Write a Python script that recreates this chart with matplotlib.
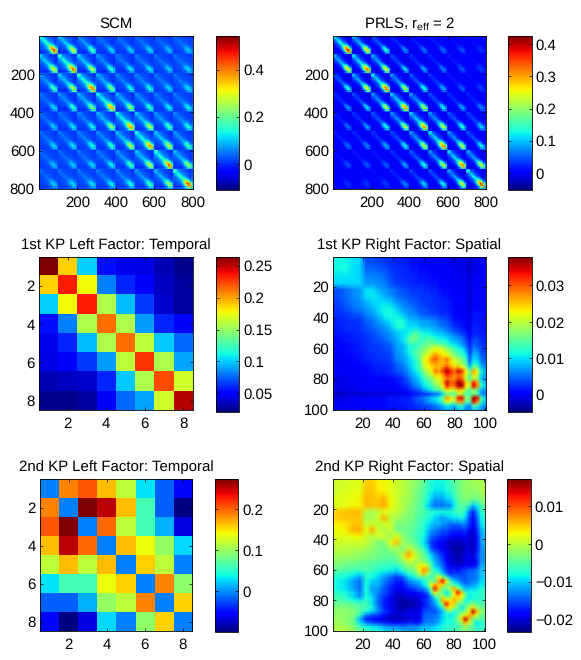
import numpy as np
import matplotlib
matplotlib.use('Agg')
import matplotlib.pyplot as plt

plt.rcParams['font.family'] = ['Liberation Sans', 'DejaVu Sans']
plt.rcParams['mathtext.default'] = 'regular'
plt.rcParams['text.hinting'] = 'no_hinting'

# temporal factors
temporal_1 = [
    [.264, .189, .101, .055, .045, .043, .033, .024],
    [.189, .235, .177, .082, .060, .050, .036, .028],
    [.101, .177, .235, .157, .096, .065, .038, .028],
    [.055, .082, .157, .213, .157, .089, .060, .050],
    [.045, .060, .096, .157, .213, .162, .099, .077],
    [.043, .050, .065, .089, .162, .228, .157, .091],
    [.033, .036, .038, .060, .099, .157, .223, .167],
    [.024, .024, .028, .050, .077, .091, .167, .252],
]
temporal_2 = [
    [-.006, .187, .205, .164, .116, .031, -.017, -.051],
    [.187, -.006, .272, .253, .164, .061, -.017, -.097],
    [.205, .272, -.006, .198, .116, .061, .012, -.066],
    [.164, .253, .198, -.006, .164, .138, .098, .027],
    [.116, .164, .116, .164, -.006, .157, .116, -.006],
    [.031, .061, .061, .138, .157, -.006, .187, .094],
    [-.017, -.017, .012, .098, .116, .187, -.006, .155],
    [-.051, -.097, -.066, .027, -.006, .094, .155, -.006],
]

# spatial factors in units of 1e-3, lower triangle
# at these positions (closer together where the panels have more detail)
spatial_grid = [.5, 8, 14, 18, 22, 26, 30, 34, 38, 42, 46,
                50, 52.5, 55, 57.5, 60, 62.5, 65, 67.5, 70, 72.5, 75, 77.5,
                80, 82.5, 85, 87.5, 90, 92.5, 95, 97.5, 100.5]
spatial_1_rows = [
    [11],
    [11, 11.5],
    [10, 10, 10],
    [9.5, 9.5, 9.5, 9.5],
    [3.5, 5, 6.5, 7, 10],
    [3.5, 5, 6.5, 7, 10, 10.5],
    [3, 4.5, 6, 6.5, 8, 9.5, 10],
    [2.5, 4, 5.5, 6, 7, 8, 10, 11],
    [2.5, 3, 4, 4.5, 6, 7, 9, 11, 11.5],
    [2, 2.5, 3, 3, 5, 5.5, 7, 9, 10.5, 12],
    [1.5, 2.5, 2.5, 3, 4, 5, 6, 7, 9, 11.5, 12],
    [1.5, 2, 2.5, 2.5, 3.5, 4, 5, 6, 7, 9, 10, 11],
    [1, 1.5, 2, 2.5, 3, 3.5, 4.5, 5.5, 6.5, 8.5, 10, 13, 15],
    [1, 1.5, 2, 2, 3, 3.5, 4, 5, 6, 8, 10, 14, 16, 15],
    [1, 1, 1.5, 2, 3, 3, 3.5, 4, 5, 7.5, 8.5, 12, 13, 13, 13],
    [.5, 1, 1.5, 2, 2.5, 3, 3, 4, 4.5, 7, 8, 11, 12, 13, 15, 17],
    [.5, 1, 1.5, 1.5, 2.5, 3, 3, 3.5, 4, 7, 8, 11, 13, 15, 15, 18, 20],
    [.5, .5, 1, 1.5, 2, 2.5, 3, 3, 3.5, 6.5, 7.5, 10, 12, 14, 16, 20, 22, 25],
    [0, .5, 1, 1.5, 2, 2.5, 2.5, 3, 3.5, 6, 7, 9, 11, 13, 16, 22, 24, 28, 30],
    [0, .5, 1, 1, 1.5, 2, 2.5, 2.5, 3, 5, 6, 9, 10, 12, 15, 21, 23, 26, 27, 26],
    [0, .5, .5, 1, 1, 1.5, 2, 2, 2.5, 4.5, 5.5, 8, 10, 12, 14, 20, 22, 24, 26, 25, 28],
    [0, .5, .5, 1, 1, 1.5, 2, 2, 2.5, 4, 5, 7, 9, 11, 13, 17, 20, 23, 29, 27, 32, 36],
    [-.5, 0, .5, .5, 1, 1, 1.5, 1.5, 2, 3, 4, 6, 8, 9, 11, 15, 18, 20, 25, 24, 27, 33, 31],
    [-1, -.5, 0, .5, .5, .5, .5, .5, 1, 1.5, 2.5, 5, 7, 8, 10, 13, 15, 17, 21, 22, 25, 29, 28, 27],
    [-1, -.5, 0, .5, .5, 1, 1, .5, 1, 1.5, 2.5, 4, 6, 7, 9, 11, 13, 15, 19, 20, 26, 35, 30, 31, 37],
    [-1, -.5, -.5, 0, .5, .5, .5, .5, .5, 1, 1.5, 3, 5, 6, 7, 10, 12, 13, 17, 18, 23, 32, 28, 29, 35, 36],
    [-1, -.5, -.5, 0, 0, .5, .5, .5, .5, 1, 1, 2, 3, 4, 5, 7, 9, 11, 13, 14, 18, 23, 22, 20, 25, 24, 18],
    [-2, -2, -1.5, -1.5, -1.5, -1.5, -1.5, -1.5, -1, -1, -.5, 0, 1, 1.5, 2, 2.5, 3, 4, 5, 6, 10, 16, 15, 14, 20, 20, 14, 14],
    [-1, -.5, 0, .5, .5, 1, 1, 1, 1.5, 1.5, 2, 2, 3, 4, 5, 6, 7, 9, 10, 12, 16, 27, 24, 20, 33, 34, 18, 17, 37],
    [-.5, -.5, 0, .5, .5, 1, 1, 1, 1.5, 1.5, 2, 2, 3, 4, 4, 5, 7, 8, 9, 11, 15, 22, 20, 18, 27, 28, 15, 14, 34, 28],
    [0, .5, .5, 1, 1, 1, 1, 1, 1.5, 1.5, 1.5, 2, 2, 3, 3, 4, 4, 5, 6, 7, 9, 11, 10, 9, 12, 13, 8, 7, 15, 13, 9],
    [.5, .5, .5, 1, 1, 1, 1, 1, 1, 1.5, 1.5, 1.5, 2, 2, 2.5, 3, 3, 4, 4, 5, 6, 7, 7, 6, 8, 9, 6, 5, 9, 8, 6, 5],
]
spatial_2_rows = [
    [1],
    [1, 1.5],
    [1.5, 2, 2.5],
    [1.5, 2, 3, 3],
    [4.5, 5, 5.5, 5.5, 0],
    [4.5, 5, 5, 5, -1, -1],
    [3, 3.5, 5, 5, .5, 1, 0],
    [2.5, 3, 6, 6, 2, 6, 1, -1],
    [2, 2, 2.5, 3, 1, 0, 1, 1, -2],
    [1, 1, 1, 1, .5, -1, -3, -3, 2, 5],
    [0, 0, -.5, 0, -1, -2, -3, -4, -2, -1, -3],
    [-1, -1, -1.5, -2, -2.5, -3, -3.5, -4, -4, -3, 0, 7],
    [-1.5, -2, -2, -2.5, -3, -3, -4, -4.5, -5, -4, -1, 4, 2],
    [-2, -3, -3.5, -4, -4, -5, -5, -5.5, -6, -5, -3, 0, 0, -2],
    [-3, -4, -4.5, -5, -5, -5.5, -6, -6.5, -7, -7, -5, -2, -2, 0, 3],
    [-4, -5, -5.5, -6, -5, -6, -7, -7.5, -8, -9, -7, -4, -4, -2, 3, 7],
    [-6, -7, -8, -9, -7, -7.5, -8.5, -10, -11, -12, -10, -7, -6, -4, 0, 6, 0],
    [-7, -8, -10, -12, -7, -8, -10, -12, -14, -16, -15, -10, -9, -7, -5, -5, -4, -7],
    [-8, -9, -12, -14, -8, -10, -11, -13, -15, -17, -17, -13, -12, -11, -10, -8, -6, -3, -5],
    [-8, -9, -12, -14, -8, -11, -11, -14, -16, -18, -18, -15, -14, -13, -12, -9, -6, 2, 6, 5],
    [-8, -9, -12, -14, -8, -12, -12, -15, -17, -19, -19, -17, -16, -15, -14, -13, -10, -2, 13, 5, -4],
    [-7, -8, -10, -13, -8, -11, -13, -15, -17, -20, -20, -19, -19, -18, -17, -16, -14, -6, 4, -2, -4, -9],
    [-6, -7, -10, -13, -8, -10, -14, -16, -18, -21, -21, -20, -20, -20, -19, -18, -17, -12, -5, -4, 0, -5, -4],
    [-5, -6, -8, -9, -7, -9, -14, -17, -19, -21, -22, -21, -21, -21, -20, -17, -16, -14, -10, -6, 6, 3, 3, 6],
    [-4, -4, -5, -6, -6, -9, -14, -17, -19, -21, -22, -22, -22, -21, -20, -18, -16, -14, -12, -8, -1, 13, 5, 4, -4],
    [-3, -3, -4, -5, -6, -8, -13, -17, -19, -21, -22, -21, -21, -21, -20, -17, -16, -15, -14, -11, -7, 5, 3, -1, -4, -9],
    [-2, -2, -3, -5, -8, -10, -13, -16, -18, -20, -21, -20, -20, -20, -19, -16, -15, -15, -15, -13, -11, -6, -3, -8, -6, -5, -3],
    [-2, -2, -3, -7, -13, -15, -16, -18, -20, -21, -20, -18, -19, -20, -19, -15, -14, -14, -14, -13, -10, -8, -9, -8, -5, 0, 2, 6],
    [-1, -2, -4, -11, -17, -18, -19, -20, -21, -21, -21, -21, -20, -20, -19, -15, -14, -14, -13, -12, -10, -8, -8, -7, -3, 4, 15, 6, -4],
    [-1, -2, -4, -9, -13, -15, -16, -17, -18, -18, -18, -17, -17, -18, -17, -14, -13, -13, -13, -11, -9, -8, -8, -7, -5, -2, 6, 1, -3, -9],
    [-1, -1, -3, -6, -8, -9, -10, -12, -13, -13, -14, -13, -13, -13, -12, -11, -11, -11, -10, -9, -8, -7, -7, -7, -6, -4, -1, -4, -5, -8, -7],
    [0, -.5, -2, -4, -6, -7, -8, -9, -10, -10, -11, -12, -12, -12, -11, -10, -10, -9, -9, -9, -7, -7, -6, -6, -5, -4, -3, -4, -4, -6, -6, -6],
]

# height of the bright spot in each 100x100 block of the SCM panel
scm_block_peak = [
    [.50, .32, .20, .12, .11, .12, .10, .11],
    [.32, .47, .30, .18, .13, .13, .11, .12],
    [.20, .30, .47, .25, .15, .16, .12, .13],
    [.12, .18, .25, .42, .26, .18, .14, .14],
    [.11, .13, .15, .26, .42, .29, .20, .16],
    [.12, .13, .16, .18, .29, .43, .30, .20],
    [.10, .11, .12, .14, .20, .30, .47, .27],
    [.11, .12, .13, .14, .16, .20, .27, .50],
]
scm_floor = .012

# weights of the two Kronecker terms, picked to land on the colorbar peaks
weight_1 = 44.
weight_2 = 3.

titles = ['SCM', 'PRLS, r$_{eff}$ = 2',
          '1st KP Left Factor: Temporal', '1st KP Right Factor: Spatial',
          '2nd KP Left Factor: Temporal', '2nd KP Right Factor: Spatial']
color_limits = [(-.11, .544), (-.053, .426), (.021, .264),
                (-.0046, .0378), (-.099, .272), (-.0234, .0172)]
cbar_ticks = [[0, .2, .4], [0, .1, .2, .3, .4], [.05, .1, .15, .2, .25],
              [0, .01, .02, .03], [0, .1, .2], [-.02, -.01, 0, .01]]
cbar_labels = [['0', '0.2', '0.4'], ['0', '0.1', '0.2', '0.3', '0.4'],
               ['0.05', '0.1', '0.15', '0.2', '0.25'],
               ['0', '0.01', '0.02', '0.03'], ['0', '0.1', '0.2'],
               ['\u22120.02', '\u22120.01', '0', '0.01']]
axis_ticks = [[200, 400, 600, 800], [200, 400, 600, 800], [2, 4, 6, 8],
              [20, 40, 60, 80, 100], [2, 4, 6, 8], [20, 40, 60, 80, 100]]
axis_sizes = [800, 800, 8, 100, 8, 100]

# left, right, top, bottom of image and colorbar in pixels
image_boxes = [(39, 192.7, 35.7, 189), (333.3, 485.7, 35.7, 189),
               (39, 192.7, 257, 410.3), (333.3, 485.7, 257, 410.3),
               (40, 192.3, 479.3, 631.3), (333.3, 485, 479.3, 631.3)]
cbar_boxes = [(216, 239.3, 35.7, 190), (508, 531.7, 35.7, 190),
              (216, 239.3, 257, 411.7), (508, 531.7, 257, 411.7),
              (215, 238.3, 479.3, 632), (507, 530.7, 479.3, 632)]


def from_lower(rows):
    m = np.zeros((len(rows), len(rows)))
    for ii, row in enumerate(rows):
        m[ii, :len(row)] = row
        m[:len(row), ii] = row
    return m


grid = np.array(spatial_grid)
t1 = np.array(temporal_1)
t2 = np.array(temporal_2)
s1 = from_lower(spatial_1_rows) * 1e-3
s2 = from_lower(spatial_2_rows) * 1e-3

# the top panels are built from the factors read below them
prls = weight_1 * np.kron(t1, s1) + weight_2 * np.kron(t2, s2)
scm = np.kron(np.array(scm_block_peak), s1 / s1.max()) + weight_2 * np.kron(t2, s2) + scm_floor
block_grid = np.concatenate([100 * bb + grid for bb in range(8)])
matrices = [scm, prls, t1, s1, t2, s2]
grids = [block_grid, block_grid, None, grid, None, grid]

W, H = 581, 660
fig = plt.figure(figsize=(W / 100., H / 100.), dpi=100)


def px_axes(box):
    left, right, top, bottom = box
    return fig.add_axes([left / W, 1 - bottom / H, (right - left) / W, (bottom - top) / H])


for ii, mat in enumerate(matrices):
    ax = px_axes(image_boxes[ii])
    n = axis_sizes[ii]
    vmin, vmax = color_limits[ii]
    if grids[ii] is None:
        im = ax.imshow(mat, cmap='jet', vmin=vmin, vmax=vmax, extent=[.5, n + .5, n + .5, .5],
                       aspect='auto', interpolation='nearest')
    else:
        im = ax.pcolormesh(grids[ii], grids[ii], mat, cmap='jet', vmin=vmin, vmax=vmax,
                           shading='gouraud')
    ax.set_xlim(.5, n + .5)
    ax.set_ylim(n + .5, .5)
    ax.set_xticks(axis_ticks[ii])
    ax.set_yticks(axis_ticks[ii])
    ax.tick_params(direction='in', top=True, right=True, length=2, width=.5, pad=3, labelsize=10.8)
    ax.tick_params(axis='x', pad=5)
    ax.set_title(titles[ii], fontsize=10.8, pad=6)
    for sp in ax.spines.values():
        sp.set_linewidth(.6)

    cax = px_axes(cbar_boxes[ii])
    cb = fig.colorbar(im, cax=cax)
    cb.set_ticks(cbar_ticks[ii])
    cb.set_ticklabels(cbar_labels[ii])
    cax.tick_params(direction='in', left=True, right=True, length=2, width=.5, pad=3, labelsize=10.8)
    cb.outline.set_linewidth(.6)

fig.savefig('out.png', dpi=100)
